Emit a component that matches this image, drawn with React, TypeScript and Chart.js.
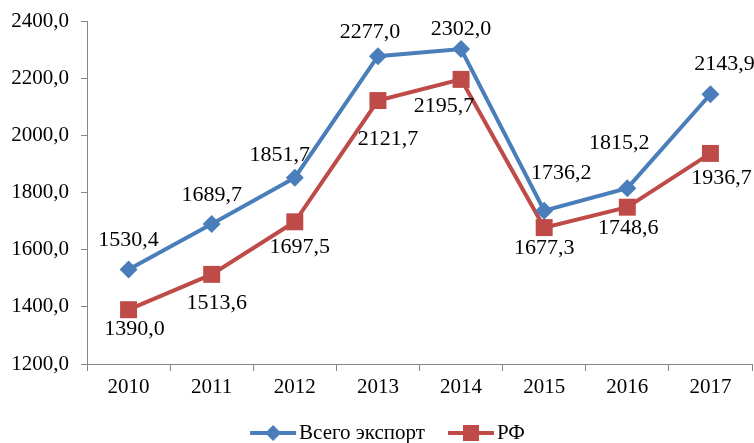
import React, { useEffect, useRef } from "react";
import { Chart, registerables } from "chart.js";

Chart.register(...registerables);

const years = ["2010", "2011", "2012", "2013", "2014", "2015", "2016", "2017"];
const totalExport = [1530.4, 1689.7, 1851.7, 2277.0, 2302.0, 1736.2, 1815.2, 2143.9];
const rfExport = [1390.0, 1513.6, 1697.5, 2121.7, 2195.7, 1677.3, 1748.6, 1936.7];
const seriesNames = ["Всего экспорт", "РФ"];
const yTicks = { min: 1200, max: 2400, step: 200 };

// label offsets (style only): [dx, dy] relative to each point
const totalLabelOffsets = [[0, -29], [0, -29], [-15, -23], [-8, -24], [0, -20], [17, -38], [-8, -45], [14, -30]];
const rfLabelOffsets = [[6, 20], [5, 29], [5, 25], [10, 39], [-17, 27], [0, 21], [1, 21], [11, 25]];

const FONT = '"Liberation Serif", "Times New Roman", serif';
const BLUE = "#4a7ebb";
const RED = "#be4b48";
const AXIS = "#868686";

const fmt = (v: number) => v.toFixed(1).replace(".", ",");

const labelPlugin = {
  id: "pointLabels",
  afterDatasetsDraw(chart: any) {
    const ctx = chart.ctx;
    const offsets = [totalLabelOffsets, rfLabelOffsets];
    ctx.save();
    ctx.font = `22px ${FONT}`;
    ctx.fillStyle = "#000";
    ctx.textAlign = "center";
    ctx.textBaseline = "middle";
    chart.data.datasets.forEach((ds: any, di: number) => {
      const meta = chart.getDatasetMeta(di);
      meta.data.forEach((pt: any, i: number) => {
        const [dx, dy] = offsets[di][i];
        ctx.fillText(fmt(ds.data[i]), pt.x + dx, pt.y + dy);
      });
    });
    ctx.restore();
  },
};

const legendPlugin = {
  id: "customLegend",
  afterDraw(chart: any) {
    const ctx = chart.ctx;
    ctx.save();
    ctx.font = `21px ${FONT}`;
    ctx.textBaseline = "middle";
    const lineLen = 46;
    const gapText = 3;
    const gapItem = 23;
    const items = chart.data.datasets.map((ds: any) => ({
      ds,
      w: lineLen + gapText + ctx.measureText(ds.label).width,
    }));
    const total = items.reduce((s: number, it: any) => s + it.w, 0) + gapItem * (items.length - 1);
    let x = 387.5 - total / 2;
    const y = 433;
    items.forEach((it: any) => {
      const ds = it.ds;
      ctx.strokeStyle = ds.borderColor;
      ctx.lineWidth = 4;
      ctx.beginPath();
      ctx.moveTo(x, y);
      ctx.lineTo(x + lineLen, y);
      ctx.stroke();
      ctx.fillStyle = ds.backgroundColor;
      const cx = x + lineLen / 2;
      ctx.beginPath();
      if (ds.pointStyle === "rectRot") {
        const r = 8;
        ctx.moveTo(cx, y - r);
        ctx.lineTo(cx + r, y);
        ctx.lineTo(cx, y + r);
        ctx.lineTo(cx - r, y);
        ctx.closePath();
      } else {
        const s = 8;
        ctx.rect(cx - s, y - s, 2 * s, 2 * s);
      }
      ctx.fill();
      ctx.fillStyle = "#000";
      ctx.textAlign = "left";
      ctx.fillText(ds.label, x + lineLen + gapText, y);
      x += it.w + gapItem;
    });
    ctx.restore();
  },
};

export default function App() {
  const ref = useRef<HTMLCanvasElement | null>(null);
  useEffect(() => {
    if (!ref.current) return;
    const chart = new Chart(ref.current, {
      type: "line",
      data: {
        labels: years,
        datasets: [
          {
            label: seriesNames[0],
            data: totalExport,
            borderColor: BLUE,
            backgroundColor: BLUE,
            borderWidth: 4,
            pointStyle: "rectRot",
            pointRadius: 9,
            pointHoverRadius: 9,
            pointBorderWidth: 0,
            tension: 0,
          },
          {
            label: seriesNames[1],
            data: rfExport,
            borderColor: RED,
            backgroundColor: RED,
            borderWidth: 4,
            pointStyle: "rect",
            pointRadius: 12,
            pointHoverRadius: 12,
            pointBorderWidth: 0,
            tension: 0,
          },
        ],
      },
      options: {
        responsive: false,
        animation: false,
        layout: { autoPadding: false, padding: { top: 21, right: 2, left: 0, bottom: 0 } },
        plugins: {
          legend: { display: false },
          tooltip: { enabled: false },
        },
        scales: {
          x: {
            offset: true,
            grid: {
              offset: true,
              drawOnChartArea: false,
              drawTicks: true,
              tickLength: 7,
              color: AXIS,
              lineWidth: 1,
            },
            border: { display: true, color: AXIS, width: 1 },
            ticks: {
              color: "#000",
              font: { family: FONT, size: 21 },
              padding: 4,
              maxRotation: 0,
            },
            afterFit(scale: any) {
              scale.height = 79;
              scale.paddingLeft = 0;
              scale.paddingRight = 0;
            },
          },
          y: {
            min: yTicks.min,
            max: yTicks.max,
            grid: {
              drawOnChartArea: false,
              drawTicks: true,
              tickLength: 6,
              color: AXIS,
              lineWidth: 1,
            },
            border: { display: true, color: AXIS, width: 1 },
            ticks: {
              stepSize: yTicks.step,
              color: "#000",
              font: { family: FONT, size: 21 },
              padding: 12,
              callback: (v: any) => fmt(Number(v)),
            },
            afterFit(scale: any) {
              scale.width = 87;
              scale.paddingTop = 0;
              scale.paddingBottom = 0;
            },
          },
        },
      },
      plugins: [labelPlugin, legendPlugin],
    });
    return () => chart.destroy();
  }, []);
  return (
    <div style={{ position: "absolute", left: 0, top: 0, width: 754, height: 443, background: "#fff" }}>
      <canvas ref={ref} width={754} height={443} style={{ display: "block" }} />
    </div>
  );
}
